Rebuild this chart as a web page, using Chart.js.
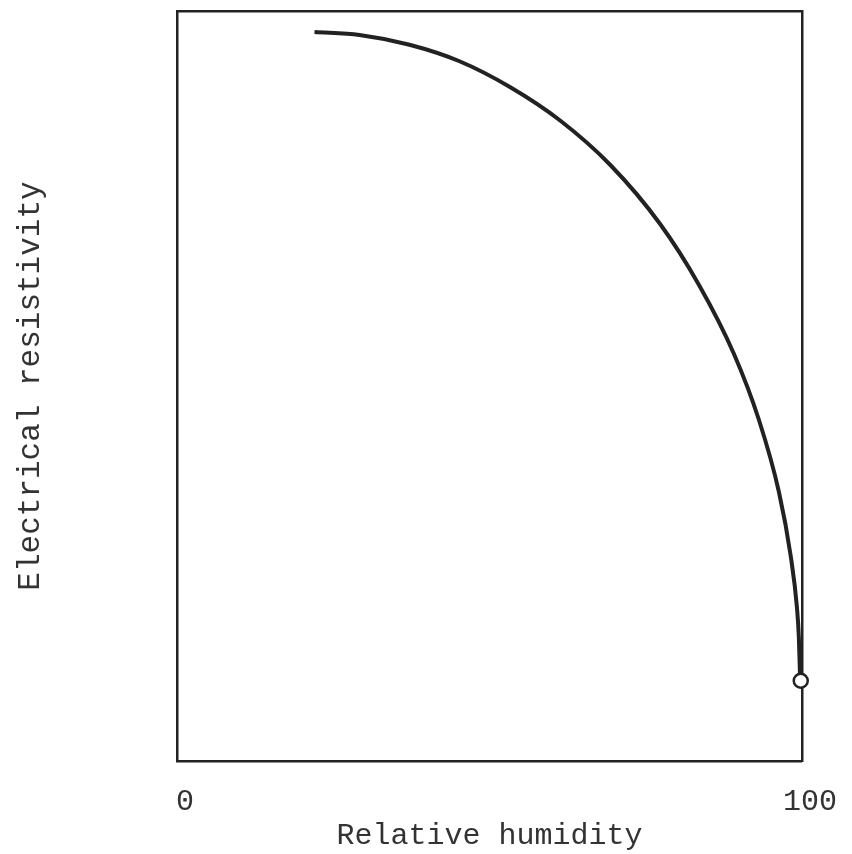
<!DOCTYPE html>
<html>
<head>
<meta charset="utf-8">
<script src="https://cdn.jsdelivr.net/npm/chart.js@4/dist/chart.umd.min.js"></script>
<style>
html,body{margin:0;padding:0;background:#fff;}
#wrap{width:852px;height:854px;position:relative;}
</style>
</head>
<body>
<div id="wrap"><canvas id="c" width="852" height="854"></canvas></div>
<script>
// Relative humidity (%) along the curve
const humidity = [22.0, 29.2, 37.2, 45.2, 53.2, 61.3, 69.3, 77.3, 83.5, 89.1, 93.1, 96.3, 98.2, 99.2, 99.5, 99.7];
// Electrical resistivity (relative units, 0-100)
const resistivity = [97.2, 96.8, 95.5, 93.3, 89.9, 85.4, 79.5, 71.6, 63.5, 54.3, 45.5, 35.9, 27.3, 20.4, 16.4, 10.8];
// End marker (open circle)
const endHumidity = [99.8];
const endResistivity = [10.7];
// Tick labels shown on x axis
const xTickValues = [0, 100];
const xTickLabels = ['0', '100'];
const xTitle = 'Relative humidity';
const yTitle = 'Electrical resistivity';

const curve = humidity.map((h, i) => ({x: h, y: resistivity[i]}));
const endPt = endHumidity.map((h, i) => ({x: h, y: endResistivity[i]}));

const FONT = "'Liberation Mono', 'DejaVu Sans Mono', monospace";
const INK = '#222';

new Chart(document.getElementById('c'), {
  type: 'scatter',
  data: {
    datasets: [
      {
        data: curve,
        order: 1,
        showLine: true,
        borderColor: INK,
        borderWidth: 4,
        pointRadius: 0,
        cubicInterpolationMode: 'monotone',
        fill: false,
        clip: false
      },
      {
        data: endPt,
        order: 0,
        showLine: false,
        pointRadius: 7,
        pointBorderWidth: 2.5,
        pointBackgroundColor: '#fff',
        pointBorderColor: INK,
        clip: false
      }
    ]
  },
  options: {
    responsive: false,
    animation: false,
    layout: {padding: {top: 11, right: 49, left: 0, bottom: 0}},
    plugins: {legend: {display: false}, tooltip: {enabled: false}},
    scales: {
      x: {
        type: 'linear', min: 0, max: 100,
        position: 'bottom',
        afterBuildTicks: s => { s.ticks = xTickValues.map(v => ({value: v})); },
        ticks: {
          callback: (v) => { const i = xTickValues.indexOf(v); return i >= 0 ? xTickLabels[i] : ''; },
          font: {family: FONT, size: 30},
          color: '#333',
          padding: 23,
          labelOffset: 8,
          maxRotation: 0,
          autoSkip: false
        },
        grid: {display: false, drawTicks: false},
        border: {display: true, color: INK, width: 2.5},
        title: {display: true, text: xTitle, font: {family: FONT, size: 30}, color: '#333', padding: {top: 0, bottom: 0}},
        afterFit: s => { s.height = 93; }
      },
      y: {
        type: 'linear', min: 0, max: 100,
        position: 'left',
        ticks: {display: false},
        grid: {display: false, drawTicks: false},
        border: {display: true, color: INK, width: 2.5},
        title: {display: true, text: yTitle, font: {family: FONT, size: 31}, color: '#333', padding: {top: 12, bottom: 0}},
        afterFit: s => { s.width = 177; }
      },
      xTop: {
        type: 'linear', min: 0, max: 100, position: 'top',
        ticks: {display: false},
        grid: {display: false, drawTicks: false},
        border: {display: true, color: INK, width: 2.5},
        afterFit: s => { s.height = 0; }
      },
      yRight: {
        type: 'linear', min: 0, max: 100, position: 'right',
        ticks: {display: false},
        grid: {display: false, drawTicks: false},
        border: {display: true, color: INK, width: 2.5},
        afterFit: s => { s.width = 0; }
      }
    }
  }
});
</script>
</body>
</html>
